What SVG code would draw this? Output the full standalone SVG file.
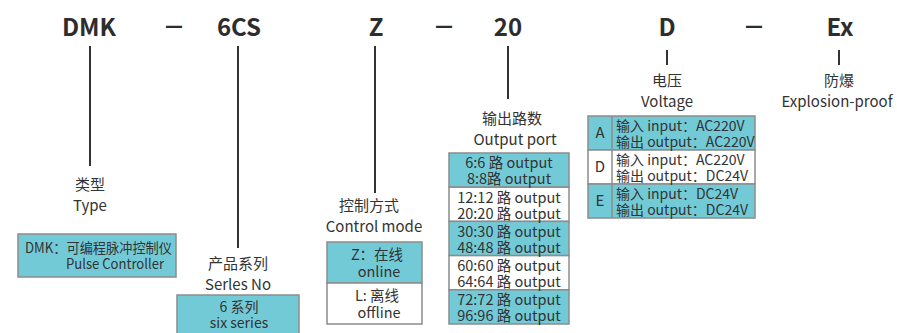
<svg xmlns="http://www.w3.org/2000/svg" width="897" height="333" viewBox="0 0 897 333">
<style>
text{font-family:"Noto Sans CJK SC","Noto Sans",sans-serif;fill:#333}
.code{font-size:24px;font-weight:bold;text-anchor:middle;fill:#2d2d2d}
.dash{font-family:"DejaVu Sans",sans-serif;font-size:18px;font-weight:bold;text-anchor:middle;fill:#2d2d2d}
.lbl{font-size:15px;text-anchor:middle}
.b14{font-size:14px}
.b15{font-size:14.5px;text-anchor:middle}
.c{text-anchor:middle}
.teal{fill:#72cad6;stroke:#8c8c8c;stroke-width:1.5}
.white{fill:#fff;stroke:#8c8c8c;stroke-width:1.5}
.ln{stroke:#333;stroke-width:2;fill:none}
</style>
<rect width="897" height="333" fill="#fff"/>
<g id="code">
<text class="code" x="89" y="36">DMK</text>
<text class="dash" x="174" y="32">—</text>
<text class="code" x="239" y="36">6CS</text>
<text class="code" x="376" y="36">Z</text>
<text class="dash" x="444" y="32">—</text>
<text class="code" x="508" y="36">20</text>
<text class="code" x="667" y="36">D</text>
<text class="dash" x="754" y="32">—</text>
<text class="code" x="840" y="36">Ex</text>
</g>
<g id="connectors">
<line class="ln" x1="90" y1="46" x2="90" y2="166"/>
<line class="ln" x1="238" y1="46" x2="238" y2="248"/>
<line class="ln" x1="375" y1="46" x2="375" y2="193"/>
<line class="ln" x1="508" y1="46" x2="508" y2="99"/>
<line class="ln" x1="667" y1="50" x2="667" y2="65"/>
<line class="ln" x1="839" y1="50" x2="839" y2="65"/>
</g>
<g id="type">
<text class="lbl" x="90" y="190">类型</text>
<text class="lbl" x="90" y="211">Type</text>
<rect class="teal" x="18" y="234" width="158" height="43"/>
<text class="b14" x="25" y="253" textLength="147" lengthAdjust="spacingAndGlyphs">DMK：可编程脉冲控制仪</text>
<text class="b14" x="66" y="269" textLength="98" lengthAdjust="spacingAndGlyphs">Pulse Controller</text>
</g>
<g id="series">
<text class="lbl" x="238" y="269">产品系列</text>
<text class="lbl" x="238" y="290">Serles No</text>
<rect class="teal" x="177" y="295" width="122" height="42"/>
<text class="b14 c" x="239" y="312">6 系列</text>
<text class="b14 c" x="239" y="328">six series</text>
</g>
<g id="control">
<text class="lbl" x="369" y="211">控制方式</text>
<text class="lbl" x="374" y="232">Control mode</text>
<rect class="teal" x="327" y="242" width="95" height="41"/>
<rect class="white" x="327" y="283" width="95" height="41"/>
<text class="b15" x="377" y="260">Z：在线</text>
<text class="b15" x="379" y="277">online</text>
<text class="b15" x="377" y="301">L: 离线</text>
<text class="b15" x="379" y="318">offline</text>
</g>
<g id="output">
<text class="lbl" x="512" y="124">输出路数</text>
<text class="lbl" x="515" y="145">Output port</text>
<rect class="teal" x="449" y="153" width="120" height="34.2"/>
<rect class="white" x="449" y="187.2" width="120" height="34.2"/>
<rect class="teal" x="449" y="221.4" width="120" height="34.2"/>
<rect class="white" x="449" y="255.6" width="120" height="34.2"/>
<rect class="teal" x="449" y="289.8" width="120" height="34.2"/>
<text class="b15" x="509" y="168">6:6 路 output</text>
<text class="b15" x="509" y="184">8:8路 output</text>
<text class="b15" x="509" y="202.5">12:12 路 output</text>
<text class="b15" x="509" y="218.5">20:20 路 output</text>
<text class="b15" x="509" y="236.5">30:30 路 output</text>
<text class="b15" x="509" y="252.5">48:48 路 output</text>
<text class="b15" x="509" y="270.5">60:60 路 output</text>
<text class="b15" x="509" y="286.5">64:64 路 output</text>
<text class="b15" x="509" y="305">72:72 路 output</text>
<text class="b15" x="509" y="321">96:96 路 output</text>
</g>
<g id="voltage">
<text class="lbl" x="667" y="86">电压</text>
<text class="lbl" x="667" y="107">Voltage</text>
<rect class="teal" x="588" y="116" width="167" height="34"/>
<rect class="white" x="588" y="150" width="167" height="34"/>
<rect class="teal" x="588" y="184" width="167" height="34"/>
<line x1="612" y1="116" x2="612" y2="218" stroke="#8c8c8c" stroke-width="1.5"/>
<text class="lbl" x="600" y="138">A</text>
<text class="lbl" x="600" y="172">D</text>
<text class="lbl" x="600" y="206">E</text>
<text class="b14" x="616" y="131">输入 input：AC220V</text>
<text class="b14" x="616" y="147">输出 output：AC220V</text>
<text class="b14" x="616" y="165">输入 input：AC220V</text>
<text class="b14" x="616" y="181">输出 output：DC24V</text>
<text class="b14" x="616" y="199">输入 input：DC24V</text>
<text class="b14" x="616" y="215">输出 output：DC24V</text>
</g>
<g id="explosion">
<text class="lbl" x="839" y="86">防爆</text>
<text class="lbl" x="837" y="107">Explosion-proof</text>
</g>
</svg>
